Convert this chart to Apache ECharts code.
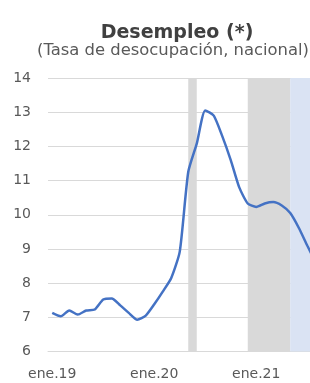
<!DOCTYPE html>
<html>
<head>
<meta charset="utf-8">
<script src="https://cdn.jsdelivr.net/npm/echarts@6/dist/echarts.min.js"></script>
<style>
  html, body { margin: 0; padding: 0; background: #fff; overflow: hidden; }
  /* el grafico original esta recortado a la derecha */
  #main { width: 320px; height: 383px; }
</style>
</head>
<body>
<div id="main"></div>
<script>
// meses (trimestres moviles) ene.19 - ago.21
var months = [
  'ene.19', 'feb.19', 'mar.19', 'abr.19', 'may.19', 'jun.19', 'jul.19', 'ago.19', 'sep.19', 'oct.19', 'nov.19', 'dic.19',
  'ene.20', 'feb.20', 'mar.20', 'abr.20', 'may.20', 'jun.20', 'jul.20', 'ago.20', 'sep.20', 'oct.20', 'nov.20', 'dic.20',
  'ene.21', 'feb.21', 'mar.21', 'abr.21', 'may.21', 'jun.21', 'jul.21', 'ago.21'
]
// tasa de desocupacion (%)
var desempleo = [
  7.13, 7.03, 7.20, 7.08, 7.20, 7.23, 7.52, 7.55, 7.35, 7.13, 6.93, 7.05,
  7.38, 7.75, 8.15, 8.92, 11.25, 12.08, 13.05, 12.90, 12.30, 11.60, 10.80, 10.33,
  10.23, 10.33, 10.37, 10.27, 10.05, 9.62, 9.10, 8.60
]
// zonas sombreadas: desde, hasta
var bandFrom = ['may.20', 'dic.20', 'may.21']
var bandTo = ['jun.20', 'may.21', 'ago.21']
var bandColors = ['#d9d9d9', '#d9d9d9', '#dae3f3']
var yTicks = [6, 14, 1] // min, max, intervalo

var myChart = echarts.init(document.getElementById('main'), null, { renderer: 'canvas' })

var areas = []
for (var i = 0; i < bandFrom.length; i++) {
  areas.push([
    { xAxis: bandFrom[i], itemStyle: { color: bandColors[i] } },
    { xAxis: bandTo[i] }
  ])
}

var option = {
  animation: false,
  title: [
    {
      text: 'Desempleo (*)',
      left: 172,
      top: 19,
      textAlign: 'center',
      textStyle: {
        fontFamily: 'DejaVu Sans',
        fontWeight: 'bold',
        fontSize: 19,
        color: '#404040'
      }
    },
    {
      text: '(Tasa de desocupación, nacional)',
      left: 168,
      top: 38,
      textAlign: 'center',
      textStyle: {
        fontFamily: 'DejaVu Sans',
        fontWeight: 'normal',
        fontSize: 16.4,
        color: '#595959'
      }
    }
  ],
  grid: {
    left: 48,
    top: 78,
    right: 0,
    bottom: 31.5
  },
  xAxis: {
    type: 'category',
    data: months,
    boundaryGap: true,
    axisTick: { show: false },
    axisLine: { lineStyle: { color: '#d9d9d9' } },
    axisLabel: {
      interval: 11,
      margin: 16,
      fontFamily: 'DejaVu Sans',
      fontSize: 14,
      color: '#595959'
    },
    splitLine: { show: false }
  },
  yAxis: {
    type: 'value',
    min: yTicks[0],
    max: yTicks[1],
    interval: yTicks[2],
    axisLine: { show: false },
    axisTick: { show: false },
    axisLabel: {
      margin: 17,
      fontFamily: 'DejaVu Sans',
      fontSize: 14,
      color: '#595959'
    },
    splitLine: { lineStyle: { color: '#d9d9d9', width: 1 } }
  },
  series: [
    {
      // solo para las zonas sombreadas
      type: 'line',
      data: [],
      silent: true,
      markArea: {
        silent: true,
        data: areas
      }
    },
    {
      name: 'Desempleo',
      type: 'line',
      data: desempleo,
      smooth: 0.2,
      symbol: 'none',
      lineStyle: { color: '#4472c4', width: 2.5 },
      z: 5
    }
  ]
}
myChart.setOption(option)
</script>
</body>
</html>
